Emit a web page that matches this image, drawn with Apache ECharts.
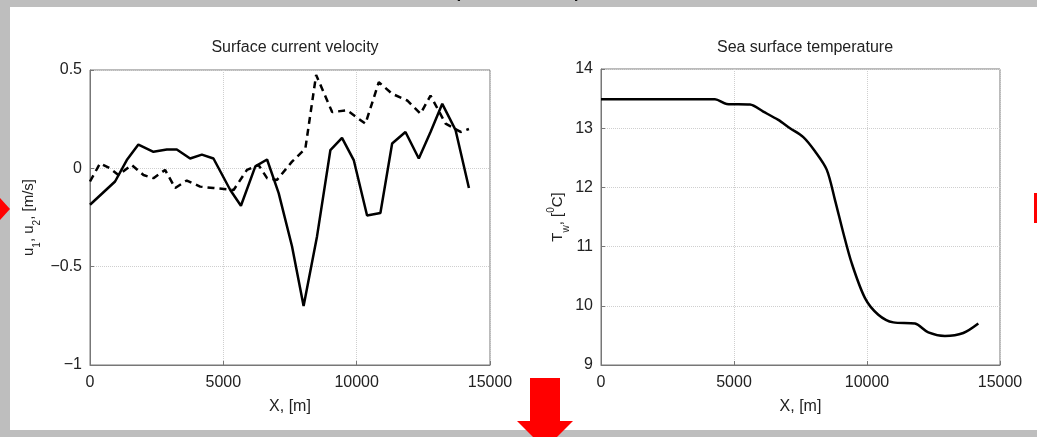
<!DOCTYPE html>
<html>
<head>
<meta charset="utf-8">
<script src="https://cdn.jsdelivr.net/npm/echarts@6/dist/echarts.min.js"></script>
<style>
  html, body { margin: 0; padding: 0; background: #bebebe; }
  #chart { width: 1037px; height: 437px; }
</style>
</head>
<body>
<div id="chart"></div>
<script>
// distance along the section, m
var u1X = [0, 940, 1380, 1815, 2380, 2880, 3255, 3755, 4195, 4630, 5260, 5660, 6200, 6640, 7075, 7575, 8010, 8515, 9015, 9450, 9890, 10390, 10890, 11330, 11830, 12330, 12770, 13210, 13710, 14210];
var u1Y = [-0.185, -0.067, 0.042, 0.121, 0.084, 0.096, 0.096, 0.05, 0.07, 0.05, -0.11, -0.19, 0.01, 0.045, -0.126, -0.396, -0.70, -0.345, 0.093, 0.155, 0.042, -0.24, -0.227, 0.126, 0.185, 0.05, 0.185, 0.328, 0.194, -0.10];

var u2X = [0, 375, 750, 1065, 1565, 2005, 2380, 2815, 3195, 3630, 4130, 4630, 5385, 5885, 6320, 6640, 7010, 7575, 8075, 8480, 9080, 9640, 10330, 10830, 11330, 11895, 12395, 12770, 13335, 13900, 14210];
var u2Y = [-0.067, 0.025, 0.0, -0.034, 0.017, -0.034, -0.05, -0.008, -0.10, -0.062, -0.093, -0.10, -0.11, -0.008, 0.017, -0.05, -0.059, 0.034, 0.10, 0.475, 0.286, 0.295, 0.227, 0.438, 0.379, 0.345, 0.278, 0.37, 0.227, 0.185, 0.20];

var tX = [0, 4285, 4725, 5600, 6100, 6665, 7105, 7605, 8045, 8485, 8795, 9110, 9425, 9925, 10425, 10990, 11805, 12305, 12930, 13620, 14185];
var tY = [13.49, 13.49, 13.41, 13.40, 13.28, 13.14, 13.0, 12.85, 12.61, 12.30, 11.79, 11.23, 10.72, 10.13, 9.85, 9.72, 9.70, 9.55, 9.49, 9.54, 9.70];

var xTicks = [0, 5000, 10000, 15000];

function pairs(xs, ys) {
  var out = [];
  for (var i = 0; i < xs.length; i++) out.push([xs[i], ys[i]]);
  return out;
}

var font = 'Liberation Sans, Arial, sans-serif';
var txt = '#222';
var grid = { type: 'dotted', color: '#cfcfcf', width: 1 };

function xAxis(idx) {
  return {
    gridIndex: idx, type: 'value', min: xTicks[0], max: xTicks[xTicks.length - 1], interval: 5000,
    name: 'X, [m]', nameLocation: 'middle', nameGap: 34,
    nameTextStyle: { fontFamily: font, fontSize: 16, color: txt },
    axisLine: { onZero: false, lineStyle: { color: '#777' } },
    axisTick: { inside: true, length: 4, lineStyle: { color: '#777' } },
    axisLabel: { fontFamily: font, fontSize: 16, color: txt, margin: 10,
      formatter: function (v) { return String(v); } },
    splitLine: { show: true, lineStyle: grid }
  };
}

var chart = echarts.init(document.getElementById('chart'));
var option = {
  backgroundColor: '#bebebe',
  animation: false,
  graphic: [
    { type: 'text', left: 300, top: -24, z: -20,
      style: { text: 'Ocean-atmosphere temperature', fill: '#111', font: '26px ' + font } },
    { type: 'rect', z: -10, shape: { x: 10, y: 7, width: 1027, height: 423 }, style: { fill: '#fff' } },
    { type: 'polygon', z: 50, shape: { points: [[0, 198], [10, 209], [0, 220]] }, style: { fill: '#f00' } },
    { type: 'rect', z: 50, shape: { x: 1034, y: 193, width: 3, height: 30 }, style: { fill: '#f00' } },
    { type: 'rect', z: 50, shape: { x: 530, y: 378, width: 30, height: 44 }, style: { fill: '#f00' } },
    { type: 'polygon', z: 50, shape: { points: [[517, 421], [573, 421], [545, 449]] }, style: { fill: '#f00' } }
  ],
  title: [
    { text: 'Surface current velocity', left: 290, top: 35, textAlign: 'center',
      textStyle: { fontFamily: font, fontSize: 16, fontWeight: 'normal', color: txt } },
    { text: 'Sea surface temperature', left: 800, top: 35, textAlign: 'center',
      textStyle: { fontFamily: font, fontSize: 16, fontWeight: 'normal', color: txt } }
  ],
  grid: [
    { left: 90, top: 70, width: 400, height: 295, show: true, borderColor: '#777', borderWidth: 1, backgroundColor: '#fff' },
    { left: 601, top: 69, width: 399, height: 296, show: true, borderColor: '#777', borderWidth: 1, backgroundColor: '#fff' }
  ],
  xAxis: [xAxis(0), xAxis(1)],
  yAxis: [
    { gridIndex: 0, type: 'value', min: -1, max: 0.5, interval: 0.5,
      name: 'u{s|1}, u{s|2}, [m/s]', nameLocation: 'middle', nameGap: 54, nameRotate: 90,
      nameTextStyle: { fontFamily: font, fontSize: 15, color: txt,
        rich: { s: { fontFamily: font, fontSize: 10, color: txt, verticalAlign: 'bottom', padding: [0, 0, -6, 0] } } },
      axisLine: { lineStyle: { color: '#777' } },
      axisTick: { inside: true, length: 4, lineStyle: { color: '#777' } },
      axisLabel: { fontFamily: font, fontSize: 16, color: txt, margin: 8,
        formatter: function (v) { return v === 0 ? '0' : String(v).replace('-', '\u2212'); } },
      splitLine: { show: true, lineStyle: grid } },
    { gridIndex: 1, type: 'value', min: 9, max: 14, interval: 1,
      name: 'T{s|w}, [{p|0}C]', nameLocation: 'middle', nameGap: 34, nameRotate: 90,
      nameTextStyle: { fontFamily: font, fontSize: 15, color: txt,
        rich: { s: { fontFamily: font, fontSize: 10, color: txt, verticalAlign: 'bottom', padding: [0, 0, -6, 0] },
                p: { fontFamily: font, fontSize: 10, color: txt, verticalAlign: 'top', padding: [-4, 0, 0, 0] } } },
      axisLine: { lineStyle: { color: '#777' } },
      axisTick: { inside: true, length: 4, lineStyle: { color: '#777' } },
      axisLabel: { fontFamily: font, fontSize: 16, color: txt, margin: 8 },
      splitLine: { show: true, lineStyle: grid } }
  ],
  series: [
    { type: 'line', xAxisIndex: 0, yAxisIndex: 0, data: pairs(u1X, u1Y), showSymbol: false,
      lineStyle: { color: '#000', width: 2.5 } },
    { type: 'line', xAxisIndex: 0, yAxisIndex: 0, data: pairs(u2X, u2Y), showSymbol: false,
      lineStyle: { color: '#000', width: 2.5, type: [7, 5] } },
    { type: 'line', xAxisIndex: 1, yAxisIndex: 1, data: pairs(tX, tY), showSymbol: false, smooth: 0.3,
      lineStyle: { color: '#000', width: 2.5 } }
  ]
};
chart.setOption(option);
</script>
</body>
</html>
